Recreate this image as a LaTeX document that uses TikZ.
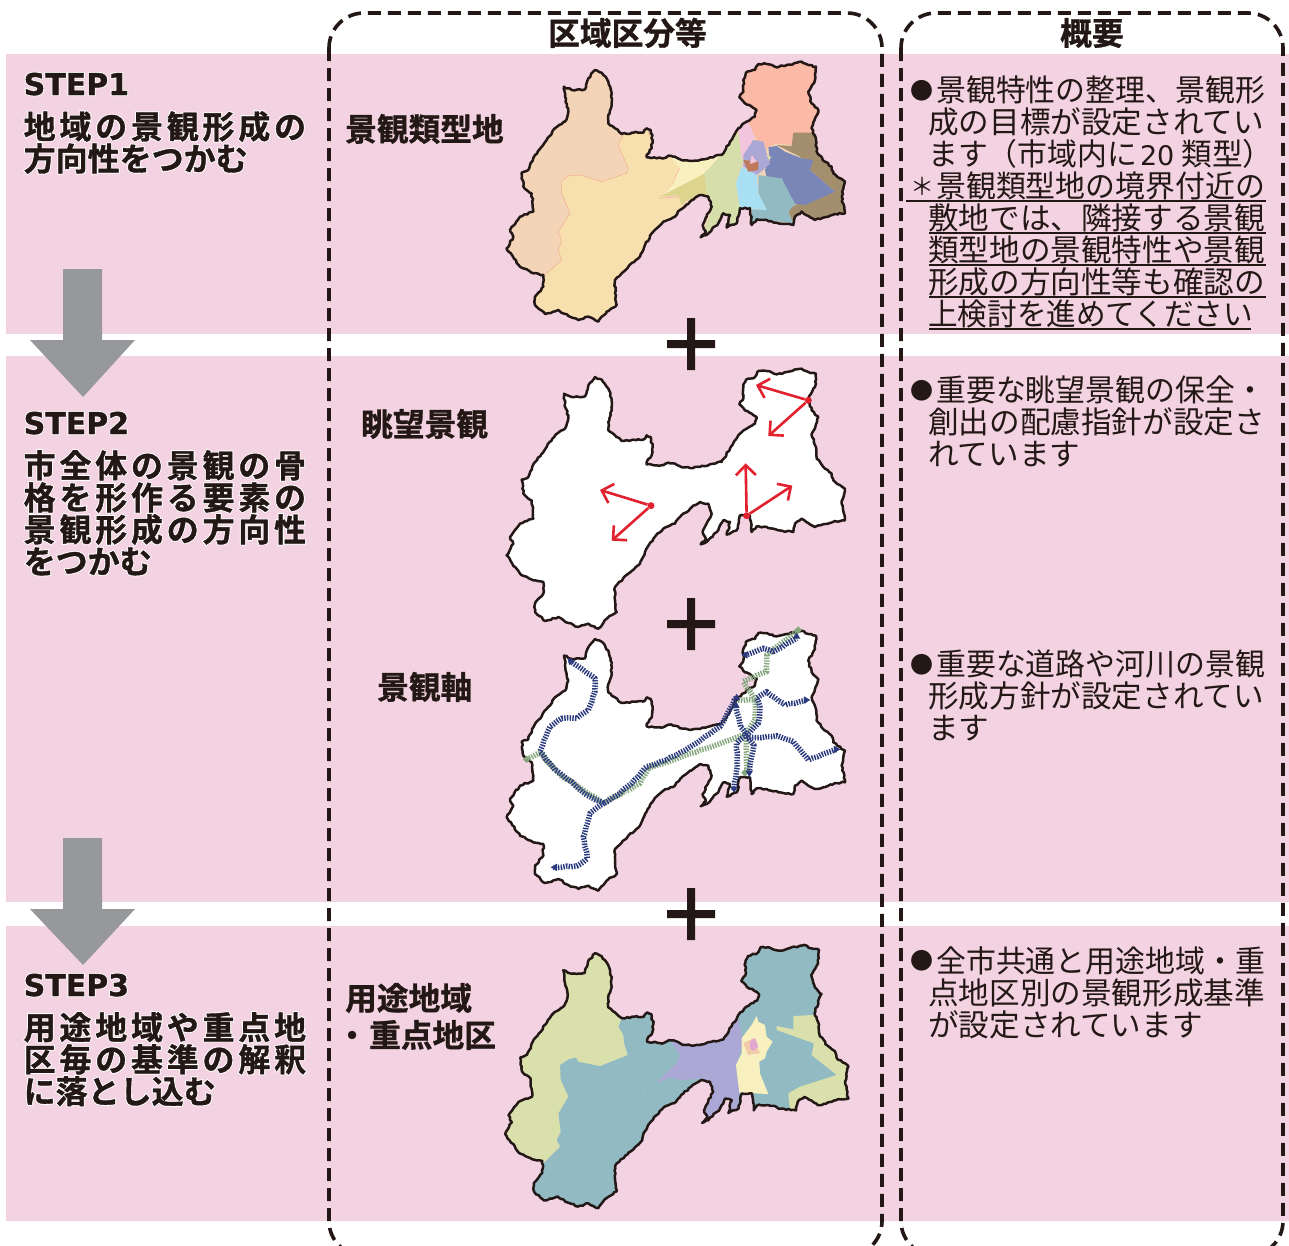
\documentclass[tikz,border=0pt]{standalone}
\usepackage{fontspec}
\usetikzlibrary{arrows.meta,decorations.pathmorphing}
\setmainfont{Noto Sans CJK JP}[BoldFont={* Bold}]
\newfontfamily\latnfont{DejaVu Sans}
\definecolor{bandpink}{HTML}{F3D3E1}
\definecolor{inkdark}{HTML}{231815}
\definecolor{arrowgrey}{HTML}{96989B}
\definecolor{viewred}{HTML}{E2212F}
\definecolor{axnavy}{HTML}{2B3A7C}
\definecolor{axgreen}{HTML}{86A67E}
\definecolor{mPeach}{HTML}{F3D4B6}
\definecolor{mSand}{HTML}{F8E0AE}
\definecolor{mEdge}{HTML}{F0AE8E}
\definecolor{mCream}{HTML}{F8F1BF}
\definecolor{mOlive}{HTML}{DDD48E}
\definecolor{mGreen}{HTML}{D6DFAA}
\definecolor{mPink}{HTML}{F2C5DC}
\definecolor{mSalmon}{HTML}{FBB9A6}
\definecolor{mBrown}{HTML}{A38F6E}
\definecolor{mBlue}{HTML}{7A86B8}
\definecolor{mTeal}{HTML}{91BAC3}
\definecolor{mSky}{HTML}{A8DFF3}
\definecolor{mLav}{HTML}{ABA8D6}
\definecolor{mRust}{HTML}{C0785A}
\definecolor{zGreen}{HTML}{D9E0AC}
\definecolor{zOrange}{HTML}{F2CBAA}
\definecolor{zPink}{HTML}{E2A7CF}
\definecolor{zFaint}{HTML}{9DC1C9}
\newcommand\mapoutline{(285,30) -- (305,38) -- (325,65) -- (335,100) -- (335,130) -- (325,165) -- (325,190) -- (345,205) -- (365,222) -- (400,218) -- (430,218) -- (440,205) -- (452,210) -- (458,240) -- (455,265) -- (440,285) -- (440,292) -- (470,295) -- (490,295) -- (505,287) -- (525,290) -- (540,298) -- (570,303) -- (600,300) -- (630,292) -- (665,285) -- (690,245) -- (715,205) -- (740,185) -- (765,170) -- (770,150) -- (755,140) -- (735,130) -- (718,112) -- (730,95) -- (730,60) -- (738,38) -- (765,30) -- (775,12) -- (800,12) -- (830,22) -- (860,15) -- (905,5) -- (925,15) -- (948,20) -- (945,60) -- (925,95) -- (935,130) -- (955,150) -- (935,205) -- (948,240) -- (950,275) -- (975,305) -- (995,320) -- (1000,340) -- (1035,365) -- (1025,410) -- (1035,460) -- (1005,462) -- (985,470) -- (945,480) -- (905,455) -- (885,470) -- (880,495) -- (835,490) -- (800,480) -- (770,478) -- (755,495) -- (750,445) -- (720,445) -- (710,490) -- (680,503) -- (690,465) -- (670,460) -- (655,490) -- (620,525) -- (602,532) -- (618,515) -- (608,495) -- (620,470) -- (635,440) -- (625,410) -- (600,405) -- (570,425) -- (540,450) -- (525,470) -- (490,485) -- (460,515) -- (435,555) -- (420,590) -- (385,620) -- (345,660) -- (345,700) -- (350,735) -- (320,755) -- (295,785) -- (265,770) -- (235,780) -- (205,768) -- (175,750) -- (135,762) -- (105,735) -- (105,710) -- (130,680) -- (130,645) -- (100,640) -- (60,620) -- (20,565) -- (40,530) -- (30,510) -- (60,470) -- (100,455) -- (95,400) -- (70,380) -- (65,338) -- (85,330) -- (105,285) -- (140,240) -- (165,205) -- (195,185) -- (205,155) -- (195,110) -- (192,80) -- (215,90) -- (255,88) -- (265,55) -- cycle}
\tikzset{
 x=1pt,y=-1pt,
 band/.style={fill=bandpink,draw=none},
 colframe/.style={draw=inkdark,line width=3.6pt,rounded corners=35pt,dash pattern=on 13pt off 7pt},
 stepdown/.style={fill=arrowgrey,draw=none},
 crossmark/.style={fill=inkdark,draw=none},
 heading/.style={anchor=base west,inner sep=0pt,text=inkdark,font=\fontsize{31.7}{37}\selectfont\bfseries\addfontfeature{FakeBold=1}},
 stepname/.style={anchor=base west,inner sep=0pt,text=inkdark,font=\fontsize{30}{32}\selectfont\latnfont\bfseries},
 steptext/.style={anchor=north west,inner sep=0pt,align=left,text=inkdark,font=\fontsize{32}{32}\selectfont\bfseries},
 bodytext/.style={anchor=north west,inner sep=0pt,align=left,text=inkdark,font=\fontsize{30.6}{32}\selectfont},
 ul/.style={draw=inkdark,line width=1.3pt},
 mapline/.style={draw=inkdark,line width=2.5pt,line join=round,decorate,decoration={random steps,segment length=2.6pt,amplitude=.8pt}},
 sightline/.style={draw=viewred,line width=2.6pt,-{Straight Barb[length=10pt,width=20pt,line width=2.6pt]}},
 sightdot/.style={circle,fill=viewred,inner sep=0pt,minimum size=7pt},
 axline/.style={line width=5.5pt,line join=round,draw=#1,dash pattern=on 1.4pt off 1.3pt,preaction={draw=#1!35!white,solid},decorate,decoration={random steps,segment length=5pt,amplitude=.6pt}},
 zoneframe/.style={shift={(-5,9.6)},xscale=1.015,yscale=1.013},
}
\newcommand\tall{\rule{0pt}{25pt}}
\newcommand\steptall{\rule{0pt}{27pt}}
\newcommand\halo[1]{\leavevmode\rlap{\color{white}\addfontfeature{FakeBold=7}#1}{\addfontfeature{FakeBold=1.2}#1}}
\newcommand\tr[1]{{\addfontfeature{LetterSpace=11.8}\halo{#1}}}
\newcommand\leadtext[3]{\hspace{-18pt}\makebox[26pt][l]{\raisebox{2.8pt}{\fontsize{#1}{32}\selectfont #2}}\scalebox{.977}[1]{#3}}
\newcommand\axend[4]{\fill[#4,shift={(#1,#2)},rotate=#3] (11,0)--(-8,-11)--(-8,11)--cycle;}
\begin{document}
\begin{tikzpicture}
\useasboundingbox (0,0) rectangle (1289,1245);
\fill[white] (0,0) rectangle (1289,1245);
% bands
\path[band] (6,54) rectangle (1289,334);
\path[band] (6,356) rectangle (1289,902);
\path[band] (6,926) rectangle (1289,1221);
% step arrows
\path[stepdown] (63,269)--(102,269)--(102,340)--(135,340)--(83,397)--(30,340)--(63,340)--cycle;
\path[stepdown] (63,838)--(102,838)--(102,909)--(135,909)--(83,965)--(30,909)--(63,909)--cycle;
% frames
\begin{scope}
\clip (0,0) rectangle (1289,1245);
\draw[colframe] (329,13) rectangle (882,1256);
\draw[colframe] (901,13) rectangle (1283,1256);
\end{scope}
% plus marks
\foreach \cy in {344,624,914}{
 \path[crossmark] (667,\cy-4)--(687,\cy-4)--(687,\cy-26)--(695,\cy-26)--(695,\cy-4)--(715,\cy-4)--(715,\cy+4)--(695,\cy+4)--(695,\cy+26)--(687,\cy+26)--(687,\cy+4)--(667,\cy+4)--cycle;
}
% headings
\node[heading] (hA) at (548,45) {区域区分等};
\node[heading] (hB) at (1060,45) {概要};
% step labels
\node[stepname] (s1) at (23.5,95) {\halo{STEP1}};
\node[steptext] (s1t) at (23.5,111) {\steptall\tr{地域の景観形成の}\\\halo{方向性をつかむ}};
\node[stepname] (s2) at (23.5,434) {\halo{STEP2}};
\node[steptext] (s2t) at (23.5,450) {\steptall\tr{市全体の景観の骨}\\\tr{格を形作る要素の}\\\tr{景観形成の方向性}\\\halo{をつかむ}};
\node[stepname] (s3) at (23.5,996) {\halo{STEP3}};
\node[steptext] (s3t) at (23.5,1012) {\steptall\tr{用途地域や重点地}\\\tr{区毎の基準の解釈}\\\halo{に落とし込む}};
% middle labels
\node[heading] (m1) at (345,141) {景観類型地};
\node[heading] (m2) at (361,436) {眺望景観};
\node[heading] (m3) at (377,699) {景観軸};
\node[heading] (m4) at (345,1010) {用途地域};
\node[heading] (m5) at (345,1047) {\makebox[24pt][l]{\hspace{-9pt}・}重点地区};
% body text
\node[bodytext] (b1) at (928,76) {\tall\leadtext{23}{●}{景観特性の整理、景観形}\\成の目標が設定されてい\\\scalebox{.975}[1]{ます（市域内に}\hspace{3pt}{\latnfont\fontsize{27}{32}\selectfont 20}\hspace{7pt}類型）\\\leadtext{24}{＊}{景観類型地の境界付近の}\\敷地では、隣接する景観\\類型地の景観特性や景観\\形成の方向性等も確認の\\\scalebox{.968}[1]{上検討を進めてください}};
\draw[ul] (906,201)--(1266,201);
\draw[ul] (929,233)--(1266,233);
\draw[ul] (929,265)--(1266,265);
\draw[ul] (929,297)--(1266,297);
\draw[ul] (929,329)--(1251,329);
\node[bodytext] (b2) at (928,376) {\tall\leadtext{23}{●}{重要な眺望景観の保全・}\\創出の配慮指針が設定さ\\れています};
\node[bodytext] (b3) at (928,650) {\tall\leadtext{23}{●}{重要な道路や河川の景観}\\形成方針が設定されてい\\ます};
\node[bodytext] (b4) at (928,946) {\tall\leadtext{23}{●}{全市共通と用途地域・重}\\点地区別の景観形成基準\\が設定されています};
% ---------- map 1: landscape types
\pgfmathsetseed{7}
\begin{scope}[shift={(500,60)},x=.3333pt,y=-.3333pt]
 \begin{scope}
 \clip \mapoutline;
 \fill[mPeach] (0,0) rectangle (1080,810);
 \fill[mSand,draw=mEdge,line width=.5pt] (370,225)--(440,200)--(470,290)--(520,290)--(540,320)--(520,370)--(480,415)--(540,410)--(560,460)--(400,650)--(345,800)--(100,800)--(100,700)--(135,645)--(185,600)--(175,570)--(185,545)--(175,515)--(210,460)--(185,400)--(183,365)--(205,348)--(240,345)--(305,365)--(380,340)--(385,325)--(365,280)--(355,255)--cycle;
 \fill[mCream] (515,295)--(665,285)--(615,340)--(480,415)--(520,370)--(540,325)--cycle;
 \fill[mOlive] (480,410)--(615,340)--(625,405)--(560,420)--(545,435)--(535,405)--cycle;
 \fill[mGreen] (665,285)--(715,215)--(730,300)--(708,370)--(720,445)--(700,510)--(600,540)--(640,440)--(620,405)--(612,340)--cycle;
 \fill[mPink] (715,205)--(745,185)--(765,230)--(740,280)--(725,300)--cycle;
 \fill[mSalmon] (745,185)--(770,150)--(715,110)--(730,30)--(800,0)--(950,0)--(960,230)--(880,220)--(875,255)--(830,250)--(800,265)--(795,280)--(760,220)--cycle;
 \fill[mBrown] (880,218)--(935,218)--(1045,360)--(1045,470)--(880,500)--(865,450)--(885,435)--(1005,395)--(925,325)--(900,290)--(830,255)--(875,258)--cycle;
 \fill[mBlue] (805,262)--(830,258)--(855,275)--(905,295)--(940,300)--(930,330)--(1005,395)--(915,435)--(885,432)--(860,390)--(845,355)--(800,352)--(795,330)--(810,300)--cycle;
 \fill[mTeal] (775,345)--(845,355)--(885,432)--(865,455)--(880,490)--(800,480)--(755,495)--(755,448)--(800,448)--(775,400)--cycle;
 \fill[mSky] (725,320)--(770,345)--(775,400)--(800,450)--(720,445)--(708,370)--cycle;
 \fill[mLav] (760,240)--(790,245)--(800,280)--(810,310)--(790,330)--(770,345)--(730,320)--(730,285)--cycle;
 \fill[mRust] (730,300)--(775,305)--(775,330)--(745,335)--cycle;
 \fill[mPink] (755,285)--(770,305)--(750,312)--cycle;
 \fill[mGreen] (798,285)--(815,292)--(808,298)--cycle;
 \end{scope}
 \draw[mapline] \mapoutline;
\end{scope}
% ---------- map 2: views
\begin{scope}[shift={(500,367)},x=.3333pt,y=-.3333pt]
 \fill[white] \mapoutline;
 \draw[mapline] \mapoutline;
 \node[sightdot] (v1) at (925,100) {};
 \node[sightdot] (v2) at (740,446) {};
 \node[sightdot] (v3) at (453,416) {};
 \coordinate (v1a) at (768,54);
 \coordinate (v1b) at (805,207);
 \coordinate (v2a) at (737,289);
 \coordinate (v2b) at (877,356);
 \coordinate (v3a) at (300,369);
 \coordinate (v3b) at (335,521);
 \draw[sightline] (v1) -- (v1a);
 \draw[sightline] (v1) -- (v1b);
 \draw[sightline] (v2) -- (v2a);
 \draw[sightline] (v2) -- (v2b);
 \draw[sightline] (v3) -- (v3a);
 \draw[sightline] (v3) -- (v3b);
\end{scope}
% ---------- map 3: axes
\begin{scope}[shift={(500,629)},x=.3333pt,y=-.3333pt]
 \fill[white] \mapoutline;
 \draw[mapline] \mapoutline;
 \begin{scope}[shift={(0,-27)}]
 \draw[axline=axgreen] (80,418) -- (120,398) -- (180,465) -- (310,550) -- (420,490) -- (445,445) -- (620,385) -- (740,340) -- (765,300) -- (765,240) -- (730,185) -- (800,155) -- (800,105) -- (890,35);
 \draw[axline=axgreen] (715,240)--(765,240);
 \draw[axline=axgreen] (738,345) -- (740,400) -- (742,455);
 \fill[axgreen,shift={(80,418)}] (-11,0)--(0,-11)--(11,0)--(0,11)--cycle;
 \fill[axgreen,shift={(895,30)}] (-11,0)--(0,-11)--(11,0)--(0,11)--cycle;
 \fill[axgreen,shift={(735,458)}] (-11,0)--(0,-11)--(11,0)--(0,11)--cycle;
 \draw[axline=axnavy] (210,122) -- (250,150) -- (285,175) -- (285,215) -- (265,270) -- (230,295) -- (185,295) -- (150,320) -- (120,395) -- (165,450) -- (215,485) -- (260,525) -- (312,550) -- (360,520) -- (415,470) -- (440,440) -- (500,420) -- (580,375) -- (660,320) -- (710,230);
 \draw[axline=axnavy] (312,550) -- (270,580) -- (250,650) -- (262,715) -- (230,738) -- (160,742);
 \draw[axline=axnavy] (735,105) -- (790,85) -- (820,95) -- (890,55);
 \draw[axline=axnavy] (708,260) -- (722,320) -- (740,345) -- (762,375) -- (748,455);
 \draw[axline=axnavy] (740,345) -- (710,370) -- (712,440) -- (702,510);
 \draw[axline=axnavy] (740,355) -- (830,347) -- (880,365) -- (925,420) -- (1010,388);
 \draw[axline=axnavy] (740,345) -- (775,310) -- (780,260) -- (770,235) -- (800,215) -- (855,255) -- (920,240);
 \axend{210}{122}{135}{axnavy}
 \axend{710}{232}{90}{axnavy}
 \axend{708}{255}{90}{axnavy}
 \axend{735}{105}{180}{axnavy}
 \axend{890}{48}{90}{axnavy}
 \axend{920}{240}{0}{axnavy}
 \axend{1010}{388}{0}{axnavy}
 \axend{748}{460}{270}{axnavy}
 \axend{702}{508}{270}{axnavy}
 \axend{163}{742}{180}{axnavy}
 \end{scope}
\end{scope}
% ---------- map 4: zoning
\begin{scope}[shift={(500,940)},x=.3333pt,y=-.3333pt]
 \begin{scope}
 \clip[zoneframe] \mapoutline;
 \fill[mTeal] (0,0) rectangle (1080,840);
 \fill[zGreen] (360,200)--(365,235)--(355,260)--(370,285)--(372,310)--(383,345)--(300,378)--(235,365)--(228,352)--(205,358)--(180,375)--(182,420)--(205,470)--(175,520)--(182,575)--(170,600)--(180,620)--(135,665)--(0,700)--(0,0)--(360,0)--cycle;
 \fill[mLav] (510,300)--(670,295)--(715,235)--(730,310)--(708,375)--(718,460)--(710,510)--(600,560)--(640,440)--(610,415)--(545,420)--(510,412)--(470,430)--(530,370)--(540,345)--cycle;
 \fill[mCream] (770,228)--(775,245)--(795,255)--(800,290)--(818,305)--(800,335)--(795,355)--(778,365)--(780,400)--(805,462)--(718,458)--(708,375)--(725,340)--(725,295)--(755,255)--cycle;
 \fill[zOrange] (730,310)--(760,295)--(780,340)--(745,345)--cycle;
 \fill[zPink] (750,305)--(765,293)--(775,320)--(760,333)--(750,325)--cycle;
 \fill[zGreen] (880,228)--(940,225)--(1050,350)--(1050,480)--(870,510)--(865,460)--(900,440)--(1010,405)--(935,345)--(942,310)--(900,295)--(830,270)--(830,258)--(880,268)--cycle;
 \draw[zFaint,line width=.4pt] (470,430)--(435,432)--(430,470)--(380,530)--(365,630);
 \draw[zFaint,line width=.4pt] (800,370)--(840,365)--(885,440);
 \end{scope}
 \draw[mapline,zoneframe] \mapoutline;
\end{scope}
\end{tikzpicture}
\end{document}
